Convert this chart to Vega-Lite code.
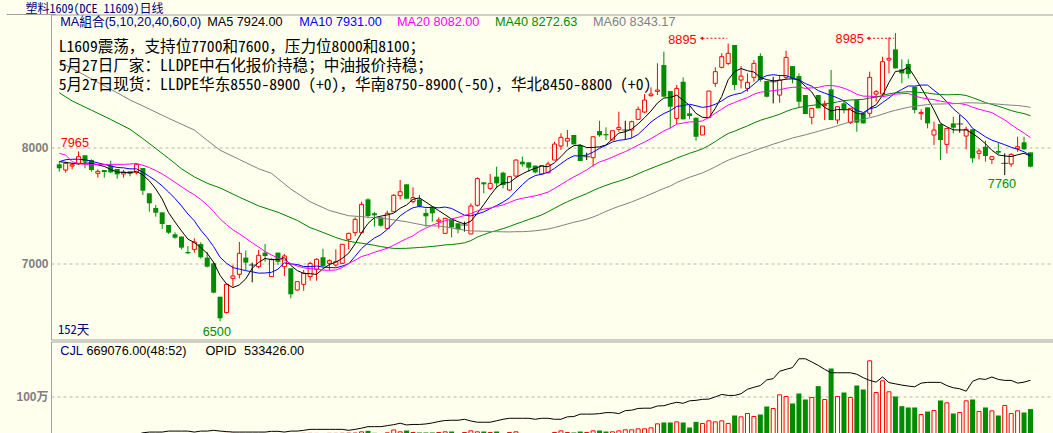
{
"$schema": "https://vega.github.io/schema/vega-lite/v6.json",
"padding": {"top": 2.5, "bottom": 0, "left": 0, "right": 0},
"background": "#FFFFEE",
"spacing": 0,
"title": {"text": "塑料1609(DCE 11609)日线", "anchor": "start", "frame": "bounds", "dx": 25, "offset": -2, "fontSize": 12, "font": "Noto Sans Mono CJK SC, Noto Sans CJK SC", "fontWeight": "normal", "color": "#000080"},
"datasets": {
"k": [
{"i":0,"o":7853,"h":7870,"l":7790,"c":7819,"v":4000},
{"i":1,"o":7804,"h":7876,"l":7781,"c":7862,"v":3000},
{"i":2,"o":7838,"h":7862,"l":7810,"c":7850,"v":3000},
{"i":3,"o":7862,"h":7965,"l":7850,"c":7919,"v":4000},
{"i":4,"o":7931,"h":7931,"l":7819,"c":7876,"v":4000},
{"i":5,"o":7890,"h":7896,"l":7790,"c":7804,"v":4000},
{"i":6,"o":7776,"h":7810,"l":7738,"c":7793,"v":3000},
{"i":7,"o":7804,"h":7804,"l":7738,"c":7787,"v":3000},
{"i":8,"o":7842,"h":7885,"l":7778,"c":7784,"v":4000},
{"i":9,"o":7813,"h":7813,"l":7730,"c":7767,"v":4000},
{"i":10,"o":7770,"h":7804,"l":7738,"c":7787,"v":3000},
{"i":11,"o":7793,"h":7793,"l":7750,"c":7773,"v":3000},
{"i":12,"o":7781,"h":7862,"l":7767,"c":7853,"v":5000,"q":312000},
{"i":13,"o":7821,"h":7821,"l":7589,"c":7626,"v":12000,"q":320000},
{"i":14,"o":7603,"h":7603,"l":7445,"c":7517,"v":35000,"q":323000},
{"i":15,"o":7477,"h":7503,"l":7402,"c":7436,"v":14000,"q":323000},
{"i":16,"o":7439,"h":7439,"l":7296,"c":7339,"v":14000,"q":323000},
{"i":17,"o":7330,"h":7330,"l":7253,"c":7264,"v":12000,"q":327000},
{"i":18,"o":7250,"h":7267,"l":7212,"c":7221,"v":10000,"q":327000},
{"i":19,"o":7230,"h":7230,"l":7120,"c":7135,"v":14000,"q":327000},
{"i":20,"o":7098,"h":7149,"l":7080,"c":7086,"v":12000,"q":327000},
{"i":21,"o":7120,"h":7215,"l":7092,"c":7184,"v":12000,"q":323000},
{"i":22,"o":7166,"h":7181,"l":7040,"c":7052,"v":18000,"q":327000},
{"i":23,"o":7049,"h":7098,"l":6965,"c":6971,"v":30000,"q":327000},
{"i":24,"o":7000,"h":7014,"l":6741,"c":6747,"v":32000,"q":330000},
{"i":25,"o":6712,"h":6712,"l":6500,"c":6526,"v":30000,"q":327000},
{"i":26,"o":6575,"h":6819,"l":6569,"c":6819,"v":30000,"q":325000},
{"i":27,"o":6870,"h":6985,"l":6799,"c":6891,"v":30000,"q":323000},
{"i":28,"o":6905,"h":7184,"l":6870,"c":7086,"v":28000,"q":323000},
{"i":29,"o":7049,"h":7109,"l":6942,"c":7006,"v":15000,"q":323000},
{"i":30,"o":6985,"h":7006,"l":6836,"c":6985,"v":25000,"q":323000},
{"i":31,"o":6971,"h":7115,"l":6957,"c":7069,"v":15000,"q":323000},
{"i":32,"o":7092,"h":7166,"l":7014,"c":7063,"v":14000,"q":323000},
{"i":33,"o":6885,"h":7043,"l":6885,"c":7034,"v":14000,"q":326000},
{"i":34,"o":7092,"h":7092,"l":6985,"c":7014,"v":14000,"q":326000},
{"i":35,"o":6971,"h":7080,"l":6891,"c":7063,"v":15000,"q":323000},
{"i":36,"o":6957,"h":6957,"l":6698,"c":6733,"v":30000,"q":327000},
{"i":37,"o":6770,"h":6842,"l":6764,"c":6842,"v":22000,"q":327000},
{"i":38,"o":6819,"h":6943,"l":6764,"c":6914,"v":30000,"q":330000},
{"i":39,"o":6885,"h":7014,"l":6850,"c":6999,"v":30000,"q":334000},
{"i":40,"o":6948,"h":7043,"l":6850,"c":7034,"v":28000,"q":334000},
{"i":41,"o":7052,"h":7126,"l":6971,"c":6977,"v":30000,"q":334000},
{"i":42,"o":7000,"h":7034,"l":6942,"c":7023,"v":30000,"q":334000},
{"i":43,"o":6985,"h":7120,"l":6971,"c":7014,"v":30000,"q":334000},
{"i":44,"o":7000,"h":7164,"l":6994,"c":7164,"v":32000,"q":334000},
{"i":45,"o":7207,"h":7264,"l":7120,"c":7258,"v":35000,"q":330000},
{"i":46,"o":7264,"h":7396,"l":7235,"c":7379,"v":38000,"q":334000},
{"i":47,"o":7264,"h":7531,"l":7258,"c":7508,"v":70000,"q":339000},
{"i":48,"o":7551,"h":7560,"l":7388,"c":7408,"v":96000,"q":345000},
{"i":49,"o":7431,"h":7442,"l":7316,"c":7414,"v":44000,"q":345000},
{"i":50,"o":7396,"h":7396,"l":7316,"c":7324,"v":32000,"q":345000},
{"i":51,"o":7299,"h":7454,"l":7293,"c":7431,"v":44000,"q":349000},
{"i":52,"o":7445,"h":7597,"l":7445,"c":7586,"v":120000,"q":353000},
{"i":53,"o":7583,"h":7718,"l":7551,"c":7617,"v":70000,"q":359000},
{"i":54,"o":7681,"h":7681,"l":7557,"c":7557,"v":105000,"q":352000},
{"i":55,"o":7531,"h":7655,"l":7517,"c":7566,"v":53000,"q":354000},
{"i":56,"o":7551,"h":7589,"l":7483,"c":7494,"v":53000,"q":354000},
{"i":57,"o":7434,"h":7471,"l":7316,"c":7405,"v":53000,"q":356000},
{"i":58,"o":7488,"h":7494,"l":7359,"c":7431,"v":53000,"q":360000},
{"i":59,"o":7362,"h":7396,"l":7301,"c":7373,"v":53000,"q":366000},
{"i":60,"o":7258,"h":7388,"l":7253,"c":7388,"v":70000,"q":370000},
{"i":61,"o":7373,"h":7373,"l":7224,"c":7310,"v":79000,"q":371000},
{"i":62,"o":7345,"h":7345,"l":7258,"c":7293,"v":26000,"q":371000},
{"i":63,"o":7330,"h":7359,"l":7273,"c":7330,"v":53000,"q":375000},
{"i":64,"o":7253,"h":7517,"l":7253,"c":7494,"v":96000,"q":368000},
{"i":65,"o":7500,"h":7741,"l":7488,"c":7730,"v":70000,"q":363000},
{"i":66,"o":7698,"h":7698,"l":7603,"c":7681,"v":79000,"q":363000},
{"i":67,"o":7646,"h":7770,"l":7632,"c":7689,"v":53000,"q":363000},
{"i":68,"o":7747,"h":7833,"l":7646,"c":7689,"v":79000,"q":369000},
{"i":69,"o":7781,"h":7790,"l":7646,"c":7675,"v":26000,"q":375000},
{"i":70,"o":7632,"h":7752,"l":7626,"c":7747,"v":53000,"q":379000},
{"i":71,"o":7752,"h":7896,"l":7747,"c":7890,"v":70000,"q":379000},
{"i":72,"o":7876,"h":7919,"l":7833,"c":7853,"v":26000,"q":379000},
{"i":73,"o":7870,"h":7870,"l":7790,"c":7824,"v":26000,"q":379000},
{"i":74,"o":7842,"h":7842,"l":7775,"c":7784,"v":26000,"q":375000},
{"i":75,"o":7770,"h":7842,"l":7761,"c":7842,"v":26000,"q":379000},
{"i":76,"o":7781,"h":7876,"l":7775,"c":7856,"v":26000,"q":379000},
{"i":77,"o":7890,"h":8048,"l":7890,"c":8028,"v":53000,"q":375000},
{"i":78,"o":8011,"h":8120,"l":7977,"c":8086,"v":96000,"q":375000},
{"i":79,"o":8054,"h":8149,"l":8005,"c":8077,"v":53000,"q":385000},
{"i":80,"o":8106,"h":8106,"l":8025,"c":8025,"v":53000,"q":386000},
{"i":81,"o":8017,"h":8028,"l":7882,"c":7882,"v":79000,"q":396000},
{"i":82,"o":7919,"h":7954,"l":7890,"c":7919,"v":53000,"q":396000},
{"i":83,"o":7910,"h":8091,"l":7833,"c":8091,"v":96000,"q":396000},
{"i":84,"o":8140,"h":8229,"l":8091,"c":8103,"v":105000,"q":398000},
{"i":85,"o":8114,"h":8172,"l":8063,"c":8103,"v":79000,"q":402000},
{"i":86,"o":8063,"h":8143,"l":8063,"c":8143,"v":70000,"q":402000},
{"i":87,"o":8155,"h":8307,"l":8135,"c":8172,"v":96000,"q":398000},
{"i":88,"o":8149,"h":8229,"l":8063,"c":8149,"v":123000,"q":410000},
{"i":89,"o":8149,"h":8229,"l":8077,"c":8221,"v":123000,"q":412000},
{"i":90,"o":8241,"h":8350,"l":8241,"c":8327,"v":149000,"q":419000},
{"i":91,"o":8304,"h":8459,"l":8293,"c":8407,"v":149000,"q":420000},
{"i":92,"o":8445,"h":8517,"l":8436,"c":8459,"v":175000,"q":420000},
{"i":93,"o":8482,"h":8724,"l":8450,"c":8494,"v":280000,"q":429000},
{"i":94,"o":8709,"h":8824,"l":8436,"c":8436,"v":316000,"q":430000},
{"i":95,"o":8485,"h":8485,"l":8163,"c":8350,"v":316000,"q":438000},
{"i":96,"o":8249,"h":8537,"l":8201,"c":8508,"v":333000,"q":444000},
{"i":97,"o":8565,"h":8603,"l":8241,"c":8241,"v":316000,"q":440000},
{"i":98,"o":8293,"h":8364,"l":8241,"c":8270,"v":184000,"q":450000},
{"i":99,"o":8255,"h":8255,"l":8057,"c":8091,"v":333000,"q":452000},
{"i":100,"o":8106,"h":8183,"l":8106,"c":8183,"v":290000,"q":456000},
{"i":101,"o":8258,"h":8485,"l":8250,"c":8485,"v":360000,"q":457000},
{"i":102,"o":8551,"h":8689,"l":8522,"c":8652,"v":333000,"q":466000},
{"i":103,"o":8689,"h":8810,"l":8680,"c":8781,"v":360000,"q":476000},
{"i":104,"o":8723,"h":8895,"l":8709,"c":8810,"v":290000,"q":472000},
{"i":105,"o":8882,"h":8882,"l":8494,"c":8537,"v":500000,"q":472000},
{"i":106,"o":8580,"h":8700,"l":8508,"c":8614,"v":465000,"q":479000},
{"i":107,"o":8508,"h":8637,"l":8479,"c":8560,"v":553000,"q":497000},
{"i":108,"o":8603,"h":8752,"l":8565,"c":8724,"v":474000,"q":505000},
{"i":109,"o":8787,"h":8810,"l":8565,"c":8580,"v":526000,"q":512000},
{"i":110,"o":8571,"h":8571,"l":8430,"c":8436,"v":737000,"q":535000},
{"i":111,"o":8565,"h":8608,"l":8379,"c":8565,"v":684000,"q":540000},
{"i":112,"o":8450,"h":8623,"l":8384,"c":8580,"v":1044000,"q":570000},
{"i":113,"o":8603,"h":8833,"l":8586,"c":8775,"v":1000000,"q":578000},
{"i":114,"o":8700,"h":8700,"l":8551,"c":8594,"v":816000,"q":585000},
{"i":115,"o":8614,"h":8637,"l":8344,"c":8393,"v":1079000,"q":621000},
{"i":116,"o":8451,"h":8451,"l":8287,"c":8287,"v":921000,"q":621000},
{"i":117,"o":8258,"h":8336,"l":8198,"c":8336,"v":974000,"q":608000},
{"i":118,"o":8451,"h":8451,"l":8336,"c":8336,"v":1272000,"q":594000},
{"i":119,"o":8359,"h":8402,"l":8235,"c":8370,"v":921000,"q":578000},
{"i":120,"o":8499,"h":8666,"l":8235,"c":8235,"v":1737000,"q":564000},
{"i":121,"o":8235,"h":8350,"l":8201,"c":8350,"v":1000000,"q":564000},
{"i":122,"o":8379,"h":8407,"l":8293,"c":8327,"v":1105000,"q":564000},
{"i":123,"o":8212,"h":8336,"l":8201,"c":8336,"v":974000,"q":564000},
{"i":124,"o":8407,"h":8407,"l":8134,"c":8212,"v":1289000,"q":558000},
{"i":125,"o":8293,"h":8293,"l":8206,"c":8206,"v":1184000,"q":544000},
{"i":126,"o":8293,"h":8652,"l":8264,"c":8603,"v":1939000,"q":533000},
{"i":127,"o":8459,"h":8494,"l":8393,"c":8479,"v":1105000,"q":526000},
{"i":128,"o":8459,"h":8781,"l":8450,"c":8738,"v":1412000,"q":547000},
{"i":129,"o":8752,"h":8948,"l":8637,"c":8767,"v":1123000,"q":524000},
{"i":130,"o":8844,"h":8985,"l":8680,"c":8680,"v":1000000,"q":519000},
{"i":131,"o":8672,"h":8758,"l":8551,"c":8637,"v":746000,"q":514000},
{"i":132,"o":8718,"h":8758,"l":8594,"c":8632,"v":711000,"q":510000},
{"i":133,"o":8522,"h":8522,"l":8293,"c":8321,"v":711000,"q":507000},
{"i":134,"o":8290,"h":8327,"l":8235,"c":8301,"v":526000,"q":522000},
{"i":135,"o":8344,"h":8344,"l":8163,"c":8206,"v":605000,"q":525000},
{"i":136,"o":8106,"h":8221,"l":8020,"c":8149,"v":632000,"q":525000},
{"i":137,"o":8201,"h":8201,"l":7890,"c":8063,"v":895000,"q":525000},
{"i":138,"o":8025,"h":8163,"l":7948,"c":8163,"v":833000,"q":512000},
{"i":139,"o":8206,"h":8264,"l":8120,"c":8169,"v":553000,"q":503000},
{"i":140,"o":8201,"h":8278,"l":8126,"c":8201,"v":579000,"q":499000},
{"i":141,"o":8097,"h":8178,"l":7983,"c":8155,"v":886000,"q":489000},
{"i":142,"o":8155,"h":8155,"l":7867,"c":7905,"v":921000,"q":529000},
{"i":143,"o":7948,"h":7991,"l":7896,"c":7968,"v":605000,"q":540000},
{"i":144,"o":8005,"h":8057,"l":7876,"c":7925,"v":711000,"q":537000},
{"i":145,"o":7896,"h":7919,"l":7856,"c":7919,"v":623000,"q":547000},
{"i":146,"o":7968,"h":8040,"l":7942,"c":7954,"v":500000,"q":537000},
{"i":147,"o":7862,"h":7948,"l":7760,"c":7862,"v":763000,"q":533000},
{"i":148,"o":7856,"h":7948,"l":7833,"c":7939,"v":553000,"q":533000},
{"i":149,"o":7991,"h":8091,"l":7962,"c":8005,"v":623000,"q":522000},
{"i":150,"o":8043,"h":8091,"l":7977,"c":7983,"v":579000,"q":526000},
{"i":151,"o":7956,"h":7956,"l":7827,"c":7833,"v":669076,"q":533426}
],
"mar": [
{"i":0,"key":"MA5","p":7876},{"i":1,"key":"MA5","p":7870},{"i":2,"key":"MA5","p":7862},{"i":3,"key":"MA5","p":7856},{"i":4,"key":"MA5","p":7865},
{"i":0,"key":"MA10","p":7876},{"i":1,"key":"MA10","p":7893},{"i":2,"key":"MA10","p":7897},{"i":3,"key":"MA10","p":7897},{"i":4,"key":"MA10","p":7893},{"i":5,"key":"MA10","p":7880},{"i":6,"key":"MA10","p":7866},{"i":7,"key":"MA10","p":7852},{"i":8,"key":"MA10","p":7840},{"i":9,"key":"MA10","p":7826},
{"i":0,"key":"MA20","p":7948},{"i":1,"key":"MA20","p":7933},{"i":2,"key":"MA20","p":7876},{"i":3,"key":"MA20","p":7859},{"i":4,"key":"MA20","p":7853},{"i":6,"key":"MA20","p":7853},{"i":8,"key":"MA20","p":7853},{"i":10,"key":"MA20","p":7853},{"i":11,"key":"MA20","p":7856},{"i":12,"key":"MA20","p":7860},{"i":13,"key":"MA20","p":7845},{"i":14,"key":"MA20","p":7825},{"i":15,"key":"MA20","p":7800},{"i":16,"key":"MA20","p":7770},{"i":17,"key":"MA20","p":7735},{"i":18,"key":"MA20","p":7698},{"i":19,"key":"MA20","p":7661},
{"i":0,"key":"MA40","p":8470},{"i":2,"key":"MA40","p":8400},{"i":5,"key":"MA40","p":8320},{"i":8,"key":"MA40","p":8240},{"i":11,"key":"MA40","p":8155},{"i":13,"key":"MA40","p":8075},{"i":15,"key":"MA40","p":7990},{"i":17,"key":"MA40","p":7905},{"i":19,"key":"MA40","p":7815},{"i":21,"key":"MA40","p":7745},{"i":23,"key":"MA40","p":7690},{"i":25,"key":"MA40","p":7650},{"i":28,"key":"MA40","p":7570},{"i":31,"key":"MA40","p":7495},{"i":34,"key":"MA40","p":7440},{"i":37,"key":"MA40","p":7370},{"i":39,"key":"MA40","p":7307},
{"i":0,"key":"MA60","p":8738},{"i":3,"key":"MA60","p":8650},{"i":6,"key":"MA60","p":8560},{"i":9,"key":"MA60","p":8470},{"i":11,"key":"MA60","p":8408},{"i":14,"key":"MA60","p":8330},{"i":17,"key":"MA60","p":8250},{"i":21,"key":"MA60","p":8149},{"i":23,"key":"MA60","p":8060},{"i":25,"key":"MA60","p":7975},{"i":28,"key":"MA60","p":7895},{"i":31,"key":"MA60","p":7815},{"i":33,"key":"MA60","p":7775},{"i":36,"key":"MA60","p":7640},{"i":39,"key":"MA60","p":7531},{"i":42,"key":"MA60","p":7455},{"i":45,"key":"MA60","p":7410},{"i":48,"key":"MA60","p":7398},{"i":51,"key":"MA60","p":7383},{"i":54,"key":"MA60","p":7358},{"i":57,"key":"MA60","p":7325},{"i":59,"key":"MA60","p":7321}
]
},
"vconcat": [
{
"width": 1003, "height": 325,
"layer": [
{"data": {"name": "k"}, "mark": {"type": "rule", "strokeWidth": 1},
 "encoding": {
  "x": {"field": "i", "type": "quantitative", "scale": {"domain": [-0.508, 153.88], "nice": false, "zero": false}, "axis": null},
  "y": {"field": "l", "type": "quantitative", "scale": {"domain": [6343.1, 9144.8], "nice": false, "zero": false}, "axis": {"values": [7000, 8000], "format": "d"}, "title": null},
  "y2": {"field": "h"},
  "color": {"condition": [{"test": "datum.c > datum.o", "value": "#FF0000"}, {"test": "datum.c < datum.o", "value": "#008C00"}], "value": "#000000"}}},
{"data": {"name": "k"}, "transform": [{"filter": "datum.c > datum.o"}], "mark": {"type": "bar", "size": 4, "fill": "#FFFFEE", "stroke": "#FF0000", "strokeWidth": 1},
 "encoding": {"x": {"field": "i", "type": "quantitative"}, "y": {"field": "o", "type": "quantitative", "title": null}, "y2": {"field": "c"}}},
{"data": {"name": "k"}, "transform": [{"filter": "datum.c < datum.o"}], "mark": {"type": "bar", "size": 5, "color": "#008C00"},
 "encoding": {"x": {"field": "i", "type": "quantitative"}, "y": {"field": "o", "type": "quantitative", "title": null}, "y2": {"field": "c"}}},
{"data": {"name": "k"}, "transform": [{"filter": "datum.c == datum.o"}], "mark": {"type": "tick", "orient": "horizontal", "size": 7, "thickness": 1, "color": "#000000"},
 "encoding": {"x": {"field": "i", "type": "quantitative"}, "y": {"field": "o", "type": "quantitative", "title": null}}},
{"data": {"name": "k"}, "transform": [
  {"window": [{"op": "mean", "field": "c", "as": "MA5"}], "frame": [-4, 0], "sort": [{"field": "i"}]},
  {"window": [{"op": "mean", "field": "c", "as": "MA10"}], "frame": [-9, 0], "sort": [{"field": "i"}]},
  {"window": [{"op": "mean", "field": "c", "as": "MA20"}], "frame": [-19, 0], "sort": [{"field": "i"}]},
  {"window": [{"op": "mean", "field": "c", "as": "MA40"}], "frame": [-39, 0], "sort": [{"field": "i"}]},
  {"window": [{"op": "mean", "field": "c", "as": "MA60"}], "frame": [-59, 0], "sort": [{"field": "i"}]},
  {"fold": ["MA5", "MA10", "MA20", "MA40", "MA60"], "as": ["key", "p"]},
  {"filter": "(datum.key=='MA5'&&datum.i>=4)||(datum.key=='MA10'&&datum.i>=9)||(datum.key=='MA20'&&datum.i>=19)||(datum.key=='MA40'&&datum.i>=39)||(datum.key=='MA60'&&datum.i>=59)"}
 ],
 "mark": {"type": "line", "strokeWidth": 1},
 "encoding": {
  "x": {"field": "i", "type": "quantitative"},
  "y": {"field": "p", "type": "quantitative", "title": null},
  "color": {"field": "key", "type": "nominal", "scale": {"domain": ["MA5", "MA10", "MA20", "MA40", "MA60"], "range": ["#000000", "#0000FF", "#FF00FF", "#008000", "#808080"]}, "legend": null}}},
{"data": {"name": "mar"},
 "mark": {"type": "line", "strokeWidth": 1},
 "encoding": {
  "x": {"field": "i", "type": "quantitative"},
  "y": {"field": "p", "type": "quantitative", "title": null},
  "color": {"field": "key", "type": "nominal", "legend": null}}},
{"data": {"values": [{}]}, "mark": {"type": "rule", "color": "#A0A0A0", "strokeWidth": 1}, "encoding": {"x": {"datum": -8.2}, "x2": {"datum": -0.508}, "y": {"datum": 9144.8}}},
{"data": {"values": [{}]}, "mark": {"type": "text", "align": "left", "baseline": "middle", "font": "Liberation Sans, Noto Sans CJK SC", "color": "#000080", "text": "MA組合(5,10,20,40,60,0)"}, "encoding": {"x": {"datum": 0.15}, "y": {"datum": 9076}}},
{"data": {"values": [{}]}, "mark": {"type": "text", "align": "left", "baseline": "middle", "color": "#000000", "text": "MA5 7924.00"}, "encoding": {"x": {"datum": 23.0}, "y": {"datum": 9076}}},
{"data": {"values": [{}]}, "mark": {"type": "text", "align": "left", "baseline": "middle", "color": "#0000FF", "text": "MA10 7931.00"}, "encoding": {"x": {"datum": 37.31}, "y": {"datum": 9076}}},
{"data": {"values": [{}]}, "mark": {"type": "text", "align": "left", "baseline": "middle", "color": "#FF00FF", "text": "MA20 8082.00"}, "encoding": {"x": {"datum": 52.49}, "y": {"datum": 9076}}},
{"data": {"values": [{}]}, "mark": {"type": "text", "align": "left", "baseline": "middle", "color": "#008C00", "text": "MA40 8272.63"}, "encoding": {"x": {"datum": 67.73}, "y": {"datum": 9076}}},
{"data": {"values": [{}]}, "mark": {"type": "text", "align": "left", "baseline": "middle", "color": "#808080", "text": "MA60 8343.17"}, "encoding": {"x": {"datum": 82.97}, "y": {"datum": 9076}}},
{"data": {"values": [{}]}, "mark": {"type": "text", "align": "left", "baseline": "top", "lineHeight": 19, "font": "Noto Sans Mono CJK SC, Noto Sans CJK SC", "fontSize": 15.6, "color": "#000000", "text": ["L1609震荡，支持位7700和7600，压力位8000和8100；", "5月27日厂家：LLDPE中石化报价持稳；中油报价持稳；", "5月27日现货：LLDPE华东8550-8900 (+0)，华南8750-8900(-50)，华北8450-8800 (+0)"]}, "encoding": {"x": {"datum": -0.09}, "y": {"datum": 8926}}},
{"data": {"values": [{}]}, "mark": {"type": "text", "align": "center", "baseline": "middle", "color": "#FF0000", "text": "7965"}, "encoding": {"x": {"datum": 2.42}, "y": {"datum": 8041}}},
{"data": {"values": [{}]}, "mark": {"type": "text", "align": "center", "baseline": "middle", "color": "#008C00", "text": "6500"}, "encoding": {"x": {"datum": 24.5}, "y": {"datum": 6408}}},
{"data": {"values": [{}]}, "mark": {"type": "text", "align": "center", "baseline": "middle", "color": "#008C00", "text": "7760"}, "encoding": {"x": {"datum": 146.57}, "y": {"datum": 7684}}},
{"data": {"values": [{}]}, "mark": {"type": "text", "align": "left", "baseline": "middle", "color": "#000080", "font": "Noto Sans Mono CJK SC, Noto Sans CJK SC", "fontSize": 12.6, "text": "152天"}, "encoding": {"x": {"datum": -0.2}, "y": {"datum": 6429}}},
{"data": {"values": [{}]}, "mark": {"type": "text", "align": "right", "baseline": "middle", "color": "#FF0000", "text": "8895"}, "encoding": {"x": {"datum": 99.08}, "y": {"datum": 8929}}},
{"data": {"values": [{}]}, "mark": {"type": "text", "align": "right", "baseline": "middle", "color": "#FF0000", "text": "8985"}, "encoding": {"x": {"datum": 125.09}, "y": {"datum": 8934}}},
{"data": {"values": [{}]}, "mark": {"type": "rule", "color": "#FF0000", "strokeDash": [2, 2], "strokeWidth": 1}, "encoding": {"x": {"datum": 100.0}, "x2": {"datum": 103.85}, "y": {"datum": 8940}}},
{"data": {"values": [{}]}, "mark": {"type": "rule", "color": "#FF0000", "strokeDash": [2, 2], "strokeWidth": 1}, "encoding": {"x": {"datum": 125.9}, "x2": {"datum": 129.8}, "y": {"datum": 8940}}},
{"data": {"values": [{}]}, "mark": {"type": "point", "shape": "triangle-left", "size": 14, "filled": true, "color": "#FF0000", "opacity": 1}, "encoding": {"x": {"datum": 99.85}, "y": {"datum": 8940}}},
{"data": {"values": [{}]}, "mark": {"type": "point", "shape": "triangle-left", "size": 14, "filled": true, "color": "#FF0000", "opacity": 1}, "encoding": {"x": {"datum": 125.75}, "y": {"datum": 8940}}}
]
},
{
"width": 1003, "height": 93,
"layer": [
{"layer": [
 {"data": {"name": "k"}, "transform": [{"filter": "datum.c >= datum.o"}], "mark": {"type": "bar", "size": 4, "fill": "#FFFFEE", "stroke": "#FF0000", "strokeWidth": 1},
  "encoding": {"x": {"field": "i", "type": "quantitative", "scale": {"domain": [-0.508, 153.88], "nice": false, "zero": false}, "axis": null}, "y": {"field": "v", "type": "quantitative", "scale": {"domain": [0, 2447000], "nice": false, "zero": false}, "axis": {"values": [1000000], "labelExpr": "'100万'"}, "title": null}, "y2": {"datum": 0}}},
 {"data": {"name": "k"}, "transform": [{"filter": "datum.c < datum.o"}], "mark": {"type": "bar", "size": 5, "color": "#008C00"},
  "encoding": {"x": {"field": "i", "type": "quantitative"}, "y": {"field": "v", "type": "quantitative", "title": null}, "y2": {"datum": 0}}},
 {"data": {"values": [{}]}, "mark": {"type": "text", "align": "left", "baseline": "middle", "color": "#000080", "text": "CJL"}, "encoding": {"x": {"datum": 0.154}, "y": {"datum": 2197000}}},
 {"data": {"values": [{}]}, "mark": {"type": "text", "align": "left", "baseline": "middle", "color": "#000000", "text": "669076.00(48:52)"}, "encoding": {"x": {"datum": 4.218}, "y": {"datum": 2197000}}},
 {"data": {"values": [{}]}, "mark": {"type": "text", "align": "left", "baseline": "middle", "color": "#000000", "text": "OPID"}, "encoding": {"x": {"datum": 22.73}, "y": {"datum": 2197000}}},
 {"data": {"values": [{}]}, "mark": {"type": "text", "align": "left", "baseline": "middle", "color": "#000000", "text": "533426.00"}, "encoding": {"x": {"datum": 28.74}, "y": {"datum": 2197000}}}
]},
{"data": {"name": "k"}, "mark": {"type": "line", "color": "#000000", "strokeWidth": 1, "clip": true},
 "encoding": {"x": {"field": "i", "type": "quantitative"}, "y": {"field": "q", "type": "quantitative", "scale": {"domain": [313100, 691150], "nice": false, "zero": false}, "axis": null}}}
],
"resolve": {"scale": {"y": "independent"}}
}
],
"config": {
"view": {"stroke": "#A0A0A0", "strokeWidth": 1},
"axis": {"domain": false, "ticks": false, "grid": true, "gridColor": "#B4B4B4", "gridDash": [3, 3], "labelColor": "#808080", "labelFont": "Liberation Sans, Noto Sans CJK SC", "labelFontSize": 12, "labelFontWeight": "bold", "labelPadding": 3, "minExtent": 50, "maxExtent": 50},
"text": {"font": "Liberation Sans", "fontSize": 12.7}
}
}
